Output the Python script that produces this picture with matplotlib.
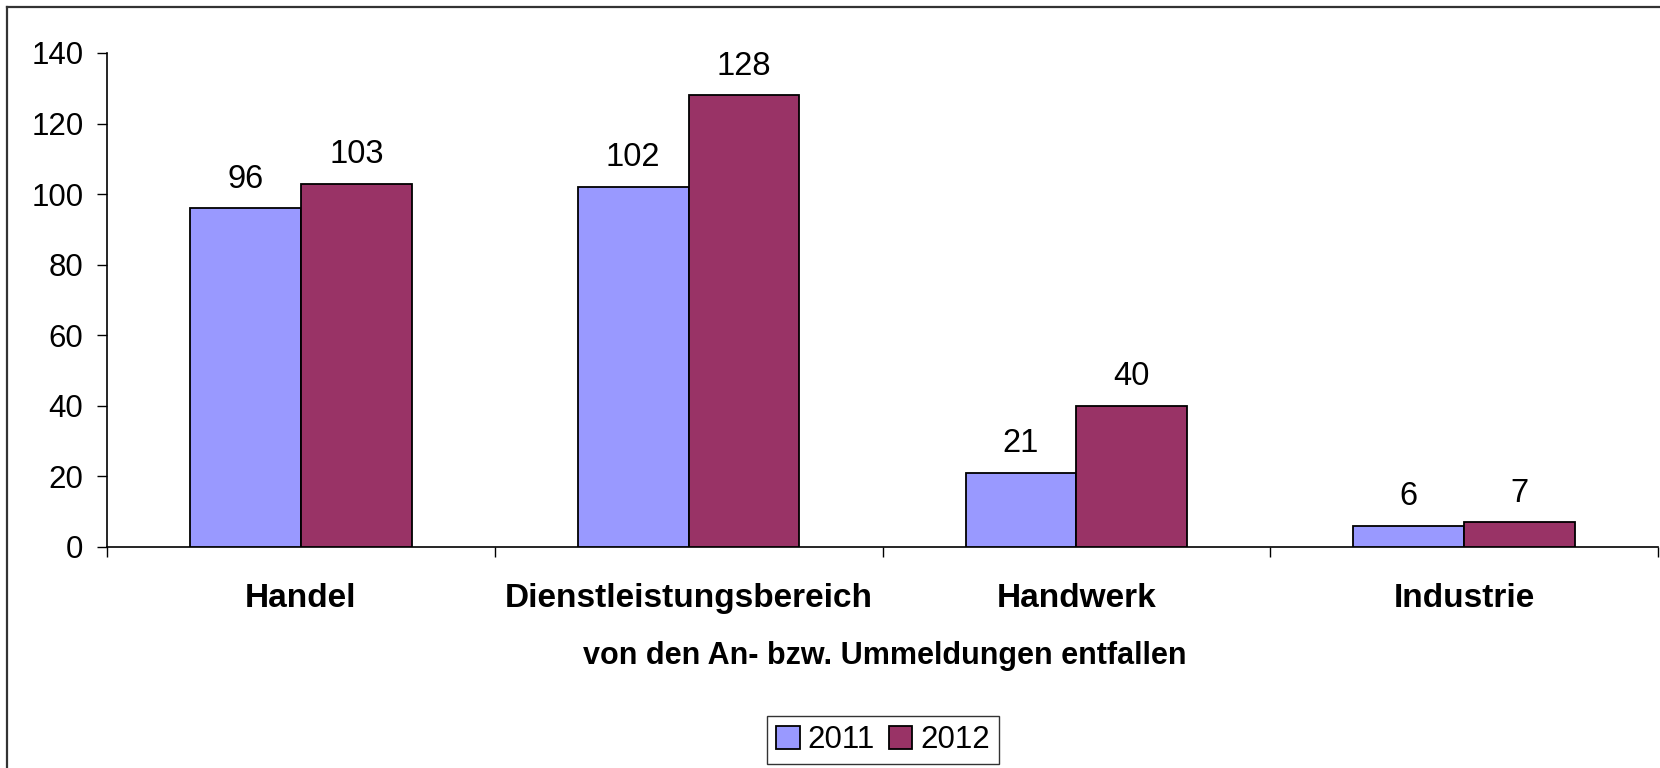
import matplotlib
matplotlib.use("Agg")
import matplotlib.pyplot as plt
from matplotlib.lines import Line2D
import numpy as np

categories = ["Handel", "Dienstleistungsbereich", "Handwerk", "Industrie"]
years = ["2011", "2012"]
values_2011 = [96, 102, 21, 6]
values_2012 = [103, 128, 40, 7]
colors = ["#9999FF", "#993366"]
yticks = [0, 20, 40, 60, 80, 100, 120, 140]
xlabel = "von den An- bzw. Ummeldungen entfallen"

plt.rcParams['font.family'] = ['Liberation Sans', 'DejaVu Sans']

W, H, DPI = 1660, 768, 100
fig = plt.figure(figsize=(W / DPI, H / DPI), dpi=DPI)
fig.patch.set_facecolor("white")

# outer frame (top and left visible)
fig.add_artist(Line2D([7 / W, 7 / W], [0, 1 - 7 / H], transform=fig.transFigure,
                      color="#333333", lw=1.6))
fig.add_artist(Line2D([7 / W, 1], [1 - 7 / H, 1 - 7 / H], transform=fig.transFigure,
                      color="#333333", lw=1.6))

left, right = 107 / W, 1658 / W
bottom, top = 1 - 547 / H, 1 - 53 / H
ax = fig.add_axes([left, bottom, right - left, top - bottom])

x = np.arange(len(categories))
bw = 1 / 3.5
series = [values_2011, values_2012]
for i, (vals, c, lab) in enumerate(zip(series, colors, years)):
    pos = x + (i - 0.5) * bw
    bars = ax.bar(pos, vals, width=bw, color=c, edgecolor="black", linewidth=1.3,
                  label=lab, zorder=3)
    for b, v in zip(bars, vals):
        ax.annotate(str(v), (b.get_x() + b.get_width() / 2, v),
                    xytext=(0, 21), textcoords="offset points",
                    ha="center", va="center", fontsize=23.5)

ax.set_xlim(-0.5, len(categories) - 0.5)
ax.set_ylim(0, 140)
ax.set_yticks(yticks)
ax.set_yticklabels([str(t) for t in yticks], fontsize=22.5)
ax.tick_params(axis="y", direction="out", length=7, width=1, pad=10, colors="black")

ax.set_xticks(x)
ax.set_xticklabels(categories, fontsize=24, fontweight="bold")
ax.tick_params(axis="x", which="major", length=0, pad=26)
ax.set_xticks(np.arange(len(categories) + 1) - 0.5, minor=True)
ax.tick_params(axis="x", which="minor", direction="out", length=7, width=1)

for s in ["top", "right"]:
    ax.spines[s].set_visible(False)
for s in ["left", "bottom"]:
    ax.spines[s].set_color("black")
    ax.spines[s].set_linewidth(1.2)

fig.text(885 / W, 1 - 656 / H, xlabel, ha="center", va="center",
         fontsize=22, fontweight="bold")

leg = fig.legend(loc="center", bbox_to_anchor=(883 / W, 1 - 740 / H), ncol=2,
                 fontsize=22.5, frameon=True, fancybox=False, edgecolor="black",
                 handlelength=0.75, handleheight=0.75, handletextpad=0.25,
                 columnspacing=0.45, borderpad=0.3, borderaxespad=0)
leg.get_frame().set_linewidth(1.0)

fig.savefig("out.png", dpi=DPI, facecolor="white")
